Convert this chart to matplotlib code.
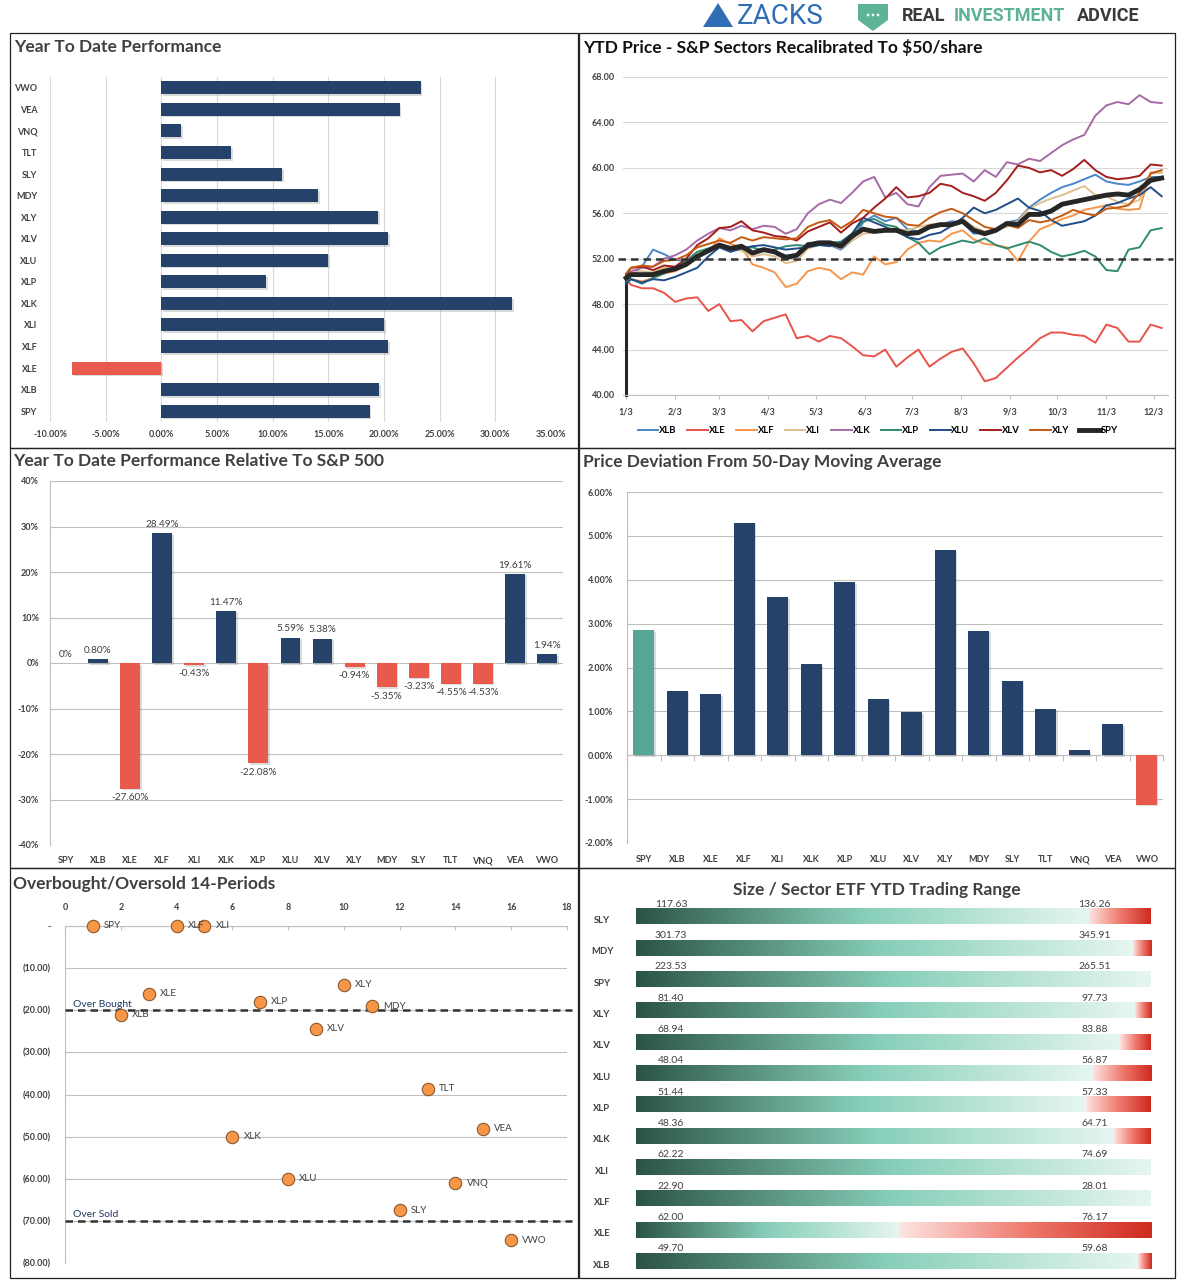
import numpy as np
import pandas as pd
import matplotlib
matplotlib.use("Agg")
import matplotlib.pyplot as plt
import matplotlib.dates as mdates
import matplotlib.patheffects as pe
from matplotlib.colors import LinearSegmentedColormap
from matplotlib.patches import Rectangle, Polygon, Circle

plt.rcParams['font.family'] = ['Lato', 'DejaVu Sans']

# ---------------- data ----------------
# top left: YTD performance (%)
ytd_cats = ['SPY', 'XLB', 'XLE', 'XLF', 'XLI', 'XLK', 'XLP', 'XLU', 'XLV', 'XLY',
            'MDY', 'SLY', 'TLT', 'VNQ', 'VEA', 'VWO']
ytd_perf = [18.7, 19.55, -8.0, 20.4, 20.0, 31.5, 9.4, 15.0, 20.4, 19.45,
            14.1, 10.85, 6.3, 1.8, 21.4, 23.3]

# top right: sector prices recalibrated to $50 (weekly readings)
line_dates = ['2017-01-03', '2017-01-06', '2017-01-13', '2017-01-20', '2017-01-27',
              '2017-02-03', '2017-02-10', '2017-02-17', '2017-02-24', '2017-03-03',
              '2017-03-10', '2017-03-17', '2017-03-24', '2017-03-31', '2017-04-07',
              '2017-04-14', '2017-04-21', '2017-04-28', '2017-05-05', '2017-05-12',
              '2017-05-19', '2017-05-26', '2017-06-02', '2017-06-09', '2017-06-16',
              '2017-06-23', '2017-06-30', '2017-07-07', '2017-07-14', '2017-07-21',
              '2017-07-28', '2017-08-04', '2017-08-11', '2017-08-18', '2017-08-25',
              '2017-09-01', '2017-09-08', '2017-09-15', '2017-09-22', '2017-09-29',
              '2017-10-06', '2017-10-13', '2017-10-20', '2017-10-27', '2017-11-03',
              '2017-11-10', '2017-11-17', '2017-11-24', '2017-12-01', '2017-12-08']
xlb = [50.2, 50.5, 51.3, 52.8, 52.4, 51.9, 51.8, 52.3, 52.6, 53.3,
       52.8, 53.0, 52.4, 52.8, 52.6, 52.3, 52.4, 53.4, 53.4, 53.2,
       52.8, 53.6, 55.2, 55.8, 55.3, 55.6, 54.6, 54.4, 54.9, 55.0,
       55.3, 55.2, 54.2, 54.3, 54.5, 55.2, 55.4, 56.5, 57.2, 57.8,
       58.3, 58.6, 59.0, 59.4, 58.8, 58.6, 58.5, 58.8, 59.2, 59.2]
xle = [50.2, 49.7, 49.4, 49.4, 49.0, 48.2, 48.5, 48.6, 47.4, 48.0,
       46.5, 46.6, 45.6, 46.5, 46.8, 47.1, 45.0, 45.2, 44.7, 45.2,
       45.0, 44.3, 43.5, 43.4, 44.0, 42.5, 43.3, 44.0, 42.5, 43.2,
       43.8, 44.1, 42.8, 41.2, 41.5, 42.4, 43.3, 44.1, 45.0, 45.5,
       45.5, 45.3, 45.2, 44.6, 46.2, 45.9, 44.7, 44.7, 46.2, 45.9]
xlf = [50.3, 50.2, 50.0, 50.3, 50.7, 50.9, 51.4, 52.3, 52.6, 53.8,
       53.3, 53.0, 51.5, 51.2, 50.8, 49.5, 49.8, 50.9, 51.2, 51.0,
       50.2, 50.8, 50.6, 52.2, 51.5, 51.7, 52.8, 53.4, 53.6, 53.5,
       54.2, 54.5, 53.7, 53.3, 53.2, 53.0, 51.8, 53.5, 54.6, 55.0,
       55.5, 55.8, 56.3, 56.5, 56.7, 56.4, 56.3, 56.4, 59.6, 59.6]
xli = [50.6, 50.8, 50.9, 50.8, 51.2, 51.3, 51.8, 52.6, 52.9, 53.2,
       52.9, 52.7, 52.2, 52.4, 52.2, 51.6, 51.8, 52.9, 53.2, 53.3,
       52.9, 53.6, 54.2, 54.3, 54.4, 54.6, 54.5, 54.8, 55.0, 55.1,
       54.9, 55.5, 54.8, 54.4, 54.6, 54.8, 55.3, 56.4, 56.9, 57.3,
       57.6, 58.0, 58.4, 57.6, 57.5, 57.0, 56.8, 57.2, 59.5, 59.6]
xlk = [50.5, 50.9, 51.2, 51.3, 52.0, 52.3, 52.8, 53.6, 54.2, 54.7,
       54.5, 54.9, 54.6, 54.9, 54.8, 54.2, 54.6, 56.0, 56.8, 57.2,
       56.9, 57.8, 58.8, 59.2, 57.4, 57.8, 56.8, 56.6, 58.3, 59.3,
       59.4, 59.5, 58.8, 59.8, 59.2, 60.5, 60.3, 60.8, 60.6, 61.3,
       62.0, 62.5, 62.9, 64.6, 65.5, 65.8, 65.6, 66.4, 65.8, 65.7]
xlp = [50.0, 50.2, 49.8, 50.3, 50.7, 51.2, 51.8, 52.6, 52.9, 53.2,
       52.8, 52.9, 53.0, 52.7, 52.8, 53.1, 53.2, 53.1, 53.2, 53.4,
       53.5, 54.2, 55.3, 55.5, 55.0, 54.8, 53.9, 53.4, 52.4, 53.0,
       53.3, 53.6, 53.4, 53.8, 53.2, 52.9, 53.2, 53.5, 53.2, 52.6,
       52.2, 52.4, 52.7, 52.2, 51.0, 50.9, 52.8, 53.0, 54.5, 54.7]
xlu = [49.8, 50.2, 49.9, 50.2, 50.1, 50.4, 50.8, 51.2, 52.2, 53.0,
       52.6, 52.9, 53.1, 53.2, 53.0, 52.8, 52.9, 53.0, 53.2, 53.1,
       53.4, 54.2, 55.6, 55.2, 54.8, 54.4, 53.9, 53.7, 54.1, 54.3,
       54.9, 55.6, 56.5, 56.0, 56.3, 56.8, 57.3, 56.5, 56.2, 55.4,
       54.9, 55.1, 55.3, 55.8, 56.7, 56.9, 57.3, 57.6, 58.3, 57.5]
xlv = [50.6, 51.2, 51.3, 51.0, 51.4, 51.3, 52.0, 53.2, 53.8, 54.7,
       54.8, 55.3, 54.5, 54.3, 54.0, 53.9, 53.6, 54.4, 54.8, 55.2,
       54.3, 55.1, 55.6, 56.5, 57.3, 58.3, 57.4, 57.5, 57.8, 58.6,
       58.4, 57.8, 57.5, 57.1, 57.8, 58.9, 60.2, 60.0, 59.6, 59.8,
       59.3, 59.9, 60.7, 59.8, 59.2, 59.0, 59.1, 59.3, 60.3, 60.2]
xly = [50.7, 51.2, 51.4, 51.3, 51.8, 51.9, 52.3, 53.0, 53.3, 53.6,
       53.4, 53.9, 53.6, 53.9, 53.8, 53.7, 53.8, 54.8, 55.2, 55.4,
       54.7, 55.3, 56.3, 56.0, 55.7, 55.6, 55.0, 54.9, 55.6, 56.1,
       56.4, 56.0, 55.4, 54.8, 54.6, 55.0, 54.7, 55.4, 55.2, 55.4,
       55.8, 56.3, 56.0, 55.8, 56.4, 56.5, 56.7, 57.8, 59.5, 59.8]
spy = [50.3, 50.6, 50.6, 50.6, 50.9, 51.1, 51.5, 52.2, 52.7, 53.2,
       52.9, 53.1, 52.5, 52.8, 52.6, 52.1, 52.3, 53.2, 53.4, 53.4,
       53.1, 54.0, 54.6, 54.4, 54.5, 54.5, 54.2, 54.3, 54.8, 55.0,
       55.0, 55.3, 54.5, 54.2, 54.5, 55.1, 55.0, 55.9, 55.9, 56.2,
       56.8, 57.0, 57.2, 57.4, 57.6, 57.7, 57.6, 58.1, 58.9, 59.1]
line_names = ['XLB', 'XLE', 'XLF', 'XLI', 'XLK', 'XLP', 'XLU', 'XLV', 'XLY', 'SPY']
line_month_ticks = ['2017-01-03', '2017-02-03', '2017-03-03', '2017-04-03', '2017-05-03',
                    '2017-06-03', '2017-07-03', '2017-08-03', '2017-09-03', '2017-10-03',
                    '2017-11-03', '2017-12-03']
line_tick_labels = ['1/3', '2/3', '3/3', '4/3', '5/3', '6/3', '7/3', '8/3', '9/3',
                    '10/3', '11/3', '12/3']

# middle left: relative to S&P 500 (%)
rel_cats = ['SPY', 'XLB', 'XLE', 'XLF', 'XLI', 'XLK', 'XLP', 'XLU', 'XLV', 'XLY',
            'MDY', 'SLY', 'TLT', 'VNQ', 'VEA', 'VWO']
rel_perf = [0.0, 0.80, -27.60, 28.49, -0.43, 11.47, -22.08, 5.59, 5.38, -0.94,
            -5.35, -3.23, -4.55, -4.53, 19.61, 1.94]

# middle right: deviation from 50-day MA (%)
dev_cats = rel_cats
dev_vals = [2.85, 1.47, 1.39, 5.30, 3.61, 2.08, 3.95, 1.29, 0.98, 4.68,
            2.84, 1.70, 1.06, 0.11, 0.71, -1.13]

# bottom left: overbought / oversold
ob_names = ['SPY', 'XLB', 'XLE', 'XLF', 'XLI', 'XLK', 'XLP', 'XLU', 'XLV', 'XLY',
            'MDY', 'SLY', 'TLT', 'VNQ', 'VEA', 'VWO']
ob_x = [1, 2, 3, 4, 5, 6, 7, 8, 9, 10, 11, 12, 13, 14, 15, 16]
ob_y = [0.0, -21.1, -16.1, 0.0, 0.0, -50.0, -18.0, -60.0, -24.4, -14.0,
        -19.0, -67.5, -38.6, -61.1, -48.1, -74.6]
overbought = -20
oversold = -70

# bottom right: YTD trading range
rng_names = ['SLY', 'MDY', 'SPY', 'XLY', 'XLV', 'XLU', 'XLP', 'XLK', 'XLI', 'XLF', 'XLE', 'XLB']
rng_low = ['117.63', '301.73', '223.53', '81.40', '68.94', '48.04', '51.44', '48.36',
           '62.22', '22.90', '62.00', '49.70']
rng_high = ['136.26', '345.91', '265.51', '97.73', '83.88', '56.87', '57.33', '64.71',
            '74.69', '28.01', '76.17', '59.68']
rng_red_start = [0.88, 0.965, 1.0, 0.968, 0.94, 0.887, 0.874, 0.929, 1.0, 1.0, 0.512, 0.974]

# ---------------- layout helpers ----------------
W, H = 1187, 1285
fig = plt.figure(figsize=(W / 100, H / 100), dpi=100)


def box(x0, y0, x1, y1):
    return [x0 / W, 1 - y1 / H, (x1 - x0) / W, (y1 - y0) / H]


def ftext(x, y, s, **kw):
    return fig.text(x / W, 1 - y / H, s, **kw)


NAVY = '#24426a'
RED = '#e85b4c'
DARK = '#404040'
GRID = '#d9d9d9'
shadow = [pe.SimplePatchShadow(offset=(1.2, -1.2), shadow_rgbFace='#888888', alpha=0.3), pe.Normal()]

# panel borders
for (x0, y0, x1, y1) in [(10, 33, 578, 448), (579, 33, 1175, 448), (10, 448, 578, 868),
                         (579, 448, 1175, 868), (10, 868, 578, 1278), (579, 868, 1175, 1278)]:
    fig.add_artist(Rectangle((x0 / W, 1 - y1 / H), (x1 - x0) / W, (y1 - y0) / H,
                             transform=fig.transFigure, fill=False, ec='#222222', lw=0.9))

# header logos
fig.add_artist(Polygon([[703 / W, 1 - 27 / H], [718 / W, 1 - 3 / H], [733 / W, 1 - 27 / H]],
                       closed=True, transform=fig.transFigure, fc='#2f6eb5', ec='none'))
ftext(737, 16, 'ZACKS', fontsize=20, color='#2f6eb5', va='center', ha='left',
      family=['Roboto', 'DejaVu Sans'])
fig.add_artist(Polygon([[858 / W, 1 - 4 / H], [888 / W, 1 - 4 / H], [888 / W, 1 - 20 / H],
                        [873 / W, 1 - 31 / H], [858 / W, 1 - 20 / H]],
                       closed=True, transform=fig.transFigure, fc='#5db393', ec='none'))
for dx in (-5, 0, 5):
    fig.add_artist(Circle(((873 + dx) / W, 1 - 15 / H), 1.3 / W, transform=fig.transFigure,
                          fc='white', ec='none'))
logo_kw = dict(fontsize=13, fontweight='bold', va='center', family=['Roboto', 'DejaVu Sans'])
ftext(902, 16, 'REAL', color='#3a3a3a', **logo_kw)
ftext(954, 16, 'INVESTMENT', color='#5db393', **logo_kw)
ftext(1077, 16, 'ADVICE', color='#3a3a3a', **logo_kw)

# panel titles
title_kw = dict(fontsize=12.5, fontweight='bold', va='center', ha='left')
ftext(14, 47, 'Year To Date Performance', color=DARK, **title_kw)
ftext(583, 47, 'YTD Price - S&P Sectors Recalibrated To $50/share', color='#111111', **title_kw)
ftext(13, 461, 'Year To Date Performance Relative To S&P 500', color=DARK, **title_kw)
ftext(583, 462, 'Price Deviation From 50-Day Moving Average', color=DARK, **title_kw)
ftext(13, 884, 'Overbought/Oversold 14-Periods', color=DARK, **title_kw)
ftext(877, 890, 'Size / Sector ETF YTD Trading Range', color=DARK, fontsize=12.5,
      fontweight='bold', va='center', ha='center')

tick_kw = dict(labelsize=6.5, labelcolor=DARK)

# ---------------- top left ----------------
ax = fig.add_axes(box(50, 77, 551, 422))
ypos = np.arange(len(ytd_cats))
cols = [RED if v < 0 else NAVY for v in ytd_perf]
bars = ax.barh(ypos, ytd_perf, height=0.6, color=cols, zorder=3)
for b in bars:
    b.set_path_effects(shadow)
ax.set_xlim(-10, 35)
ax.set_ylim(-0.5, len(ytd_cats) - 0.5)
ax.set_xticks(np.arange(-10, 36, 5))
ax.set_xticklabels([f'{v:.2f}%' for v in np.arange(-10, 36, 5)])
ax.set_yticks(ypos)
ax.set_yticklabels(ytd_cats)
ax.xaxis.grid(True, color=GRID, lw=0.8)
ax.set_axisbelow(True)
for s in ax.spines.values():
    s.set_visible(False)
ax.tick_params(axis='both', length=0, **tick_kw)
ax.tick_params(axis='y', pad=9)
ax.tick_params(axis='x', pad=6)
for lab in ax.get_xticklabels() + ax.get_yticklabels():
    lab.set_fontweight('bold')

# ---------------- top right ----------------
ax = fig.add_axes(box(623, 77, 1168, 395))
dates = pd.to_datetime(line_dates)
series = [xlb, xle, xlf, xli, xlk, xlp, xlu, xlv, xly, spy]
colors = ['#4a86c8', '#e8534a', '#f7964a', '#dcc08e', '#a66aa6', '#2f8b72',
          '#1f4e89', '#a31d1d', '#c55a11', '#262626']
handles = []
for name, vals, c in zip(line_names, series, colors):
    lw = 3.5 if name == 'SPY' else 1.4
    h, = ax.plot(dates, vals, color=c, lw=lw, label=name, zorder=4 if name == 'SPY' else 3)
    handles.append(h)
ax.axhline(52, color='#333333', lw=1.8, ls=(0, (3, 2)), xmin=-0.01, xmax=1.01,
           clip_on=False, zorder=5)
ax.set_ylim(40, 68)
ax.set_xlim(pd.Timestamp('2017-01-01'), pd.Timestamp('2017-12-12'))
ax.set_yticks(np.arange(40, 69, 4))
ax.set_yticklabels([f'{v:.2f}' for v in np.arange(40, 69, 4)])
ax.set_xticks(pd.to_datetime(line_month_ticks))
ax.set_xticklabels(line_tick_labels)
ax.yaxis.grid(True, color=GRID, lw=0.8)
ax.set_axisbelow(True)
for s in ['top', 'right']:
    ax.spines[s].set_visible(False)
ax.spines['bottom'].set_color('#bfbfbf')
ax.spines['left'].set_bounds(40, 50.3)
ax.spines['left'].set_color('#262626')
ax.spines['left'].set_linewidth(2.2)
ax.spines['left'].set_position(('data', mdates.date2num(pd.Timestamp('2017-01-03'))))
ax.tick_params(axis='y', length=0, pad=8, **tick_kw)
ax.tick_params(axis='x', length=3, color='#bfbfbf', pad=6, **tick_kw)
for lab in ax.get_xticklabels() + ax.get_yticklabels():
    lab.set_fontweight('bold')
fig.legend(handles=handles, loc='center', bbox_to_anchor=(878 / W, 1 - 431 / H), ncol=10,
           frameon=False, handlelength=2.2, handletextpad=0.1,
           columnspacing=1.1, prop={'weight': 'bold', 'size': 6.8})

# ---------------- middle left ----------------
ax = fig.add_axes(box(50, 481, 563, 845))
xpos = np.arange(len(rel_cats))
cols = [RED if v < 0 else NAVY for v in rel_perf]
bars = ax.bar(xpos, rel_perf, width=0.62, color=cols, zorder=3)
for b in bars:
    b.set_path_effects(shadow)
for x, v in zip(xpos, rel_perf):
    lab = '0%' if v == 0 else f'{v:.2f}%'
    if v >= 0:
        ax.annotate(lab, (x, v), xytext=(0, 3), textcoords='offset points', ha='center',
                    va='bottom', fontsize=7.2, color=DARK)
    else:
        ax.annotate(lab, (x, v), xytext=(0, -3), textcoords='offset points', ha='center',
                    va='top', fontsize=7.2, color=DARK)
ax.set_ylim(-40, 40)
ax.set_xlim(-0.5, len(rel_cats) - 0.5)
ax.set_yticks(np.arange(-40, 41, 10))
ax.set_yticklabels([f'{v}%' for v in np.arange(-40, 41, 10)])
ax.set_xticks(xpos)
ax.set_xticklabels(rel_cats)
ax.yaxis.grid(True, color='#bfbfbf', lw=0.8)
ax.set_axisbelow(True)
for s in ['top', 'right', 'bottom']:
    ax.spines[s].set_visible(False)
ax.spines['left'].set_color('#bfbfbf')
ax.tick_params(axis='both', length=0, **tick_kw)
ax.tick_params(axis='y', pad=8)
ax.tick_params(axis='x', pad=8)
for lab in ax.get_xticklabels() + ax.get_yticklabels():
    lab.set_fontweight('bold')

# ---------------- middle right ----------------
ax = fig.add_axes(box(627, 492, 1163, 843))
xpos = np.arange(len(dev_cats))
cols = ['#57a695' if c == 'SPY' else (RED if v < 0 else NAVY) for c, v in zip(dev_cats, dev_vals)]
bars = ax.bar(xpos, dev_vals, width=0.63, color=cols, zorder=3)
for b in bars:
    b.set_path_effects(shadow)
ax.set_ylim(-2, 6)
ax.set_xlim(-0.5, len(dev_cats) - 0.5)
ax.set_yticks(np.arange(-2, 7, 1))
ax.set_yticklabels([f'{v:.2f}%' for v in np.arange(-2, 7, 1)])
ax.yaxis.grid(True, color='#bfbfbf', lw=0.8)
ax.set_axisbelow(True)
for s in ['top', 'right']:
    ax.spines[s].set_visible(False)
ax.spines['left'].set_color('#bfbfbf')
ax.spines['bottom'].set_position(('data', 0))
ax.spines['bottom'].set_color('#bfbfbf')
ax.set_xticks(np.arange(len(dev_cats) + 1) - 0.5)
ax.set_xticklabels([])
ax.tick_params(axis='x', length=4, direction='out', color='#bfbfbf')
ax.tick_params(axis='y', length=0, pad=10, **tick_kw)
for lab in ax.get_yticklabels():
    lab.set_fontweight('bold')
for x, c in zip(xpos, dev_cats):
    ax.text(x, -0.045, c, transform=ax.get_xaxis_transform(), ha='center', va='center_baseline',
            fontsize=6.5, color=DARK, fontweight='bold')

# ---------------- bottom left ----------------
ax = fig.add_axes(box(65, 926, 567, 1263))
ax.scatter(ob_x, ob_y, s=80, color='#f79646', edgecolor='#8a5a30', lw=0.8, zorder=4,
           clip_on=False)
for x, y, n in zip(ob_x, ob_y, ob_names):
    ax.annotate(n, (x, y), xytext=(8, 0), textcoords='offset points', va='center',
                ha='left', fontsize=7, color=DARK, zorder=5)
for lvl, txt in [(overbought, 'Over Bought'), (oversold, 'Over Sold')]:
    ax.axhline(lvl, color='#333333', lw=1.8, ls=(0, (3, 2)), xmax=1.01, clip_on=False, zorder=3)
    ax.text(0.3, lvl + 0.4, txt, fontsize=7.5, color='#1f3864', va='bottom', ha='left')
ax.set_xlim(0, 18)
ax.set_ylim(-80, 0)
ax.set_xticks(np.arange(0, 19, 2))
ax.set_yticks(np.arange(-80, 1, 10))
ax.set_yticklabels(['-' if v == 0 else f'({abs(v):.2f})' for v in np.arange(-80, 1, 10)])
ax.xaxis.tick_top()
ax.yaxis.grid(True, color='#bfbfbf', lw=0.8)
ax.set_axisbelow(True)
for s in ['bottom', 'right']:
    ax.spines[s].set_visible(False)
ax.spines['left'].set_color('#bfbfbf')
ax.spines['top'].set_color('#bfbfbf')
ax.tick_params(axis='x', length=3, direction='in', color='#bfbfbf', pad=10, **tick_kw)
ax.tick_params(axis='y', length=0, pad=10, **tick_kw)
for lab in ax.get_xticklabels() + ax.get_yticklabels():
    lab.set_fontweight('bold')

# ---------------- bottom right ----------------
ax = fig.add_axes(box(636, 901, 1151, 1277))
ax.axis('off')
green_cm = LinearSegmentedColormap.from_list('g', ['#2b5446', '#87cfba', '#e6f6f0'])
red_cm = LinearSegmentedColormap.from_list('r', ['#fde4e1', '#ef7a6e', '#cf2a1e'])
grad = np.linspace(0, 1, 256)[None, :]
bh = 0.48
for i, (n, lo, hi, rs) in enumerate(zip(rng_names, rng_low, rng_high, rng_red_start)):
    ax.imshow(grad, cmap=green_cm, aspect='auto', extent=[0, rs, i + bh / 2, i - bh / 2],
              interpolation='bilinear')
    if rs < 1:
        ax.imshow(grad, cmap=red_cm, aspect='auto', extent=[rs, 1, i + bh / 2, i - bh / 2],
                  interpolation='bilinear')
    ax.text(0.068, i - bh / 2 - 0.02, lo, ha='center', va='bottom', fontsize=7.5, color=DARK)
    ax.text(0.891, i - bh / 2 - 0.02, hi, ha='center', va='bottom', fontsize=7.5, color=DARK)
    ax.text(-0.066, i + 0.12, n, ha='center', va='center', fontsize=6.8, color=DARK,
            fontweight='bold')
ax.set_xlim(0, 1)
ax.set_ylim(len(rng_names) - 0.5, -0.5)

fig.savefig('out.png', dpi=100)
